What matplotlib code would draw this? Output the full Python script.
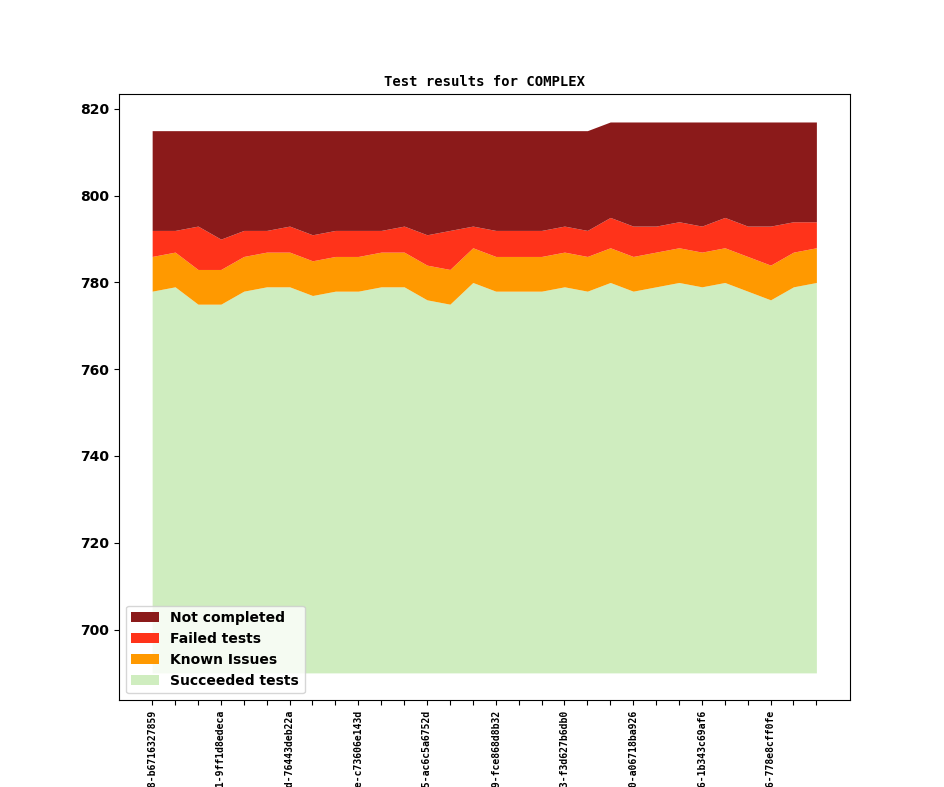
import matplotlib
matplotlib.use('Agg')
import matplotlib.pyplot as plt
import numpy as np

base = 690
succeeded = [778, 779, 775, 775, 778, 779, 779, 777, 778, 778, 779, 779, 776, 775, 780,
             778, 778, 778, 779, 778, 780, 778, 779, 780, 779, 780, 778, 776, 779, 780]
known_top = [786, 787, 783, 783, 786, 787, 787, 785, 786, 786, 787, 787, 784, 783, 788,
             786, 786, 786, 787, 786, 788, 786, 787, 788, 787, 788, 786, 784, 787, 788]
failed_top = [792, 792, 793, 790, 792, 792, 793, 791, 792, 792, 792, 793, 791, 792, 793,
              792, 792, 792, 793, 792, 795, 793, 793, 794, 793, 795, 793, 793, 794, 794]
total = [815] * 20 + [817] * 10

known = np.array(known_top) - np.array(succeeded)
failed = np.array(failed_top) - np.array(known_top)
not_completed = np.array(total) - np.array(failed_top)

commits = ['3f2a91c4-7d1e-4b08-b6716327859', '8c4e12aa-5b7f-4e21-9ff1d8edeca',
           'd19be0f3-2c6a-4f7d-76443deb22a', '5a0c7e9b-81d4-4a3e-c73606e143d',
           'e7b2d6f1-90c3-4c85-ac6c5a6752d', '1f8d3a62-4e7b-4d19-fce868d8b32',
           '9b6c04e5-a2f8-4b73-f3d627b6db0', '6d2e8f17-3c9a-4e50-a06718ba926',
           'c4a91b38-7e2d-4f66-1b343c69af6', '2e7f5c90-b1a4-4d36-778e8cff0fe']

x = np.arange(len(succeeded))
s = np.array(succeeded)
k = s + known
f = k + failed
t = f + not_completed

fig, ax = plt.subplots(figsize=(9.44, 7.87), dpi=100)
fig.subplots_adjust(left=0.126, right=0.9, top=0.88, bottom=0.11)
ax.fill_between(x, base, s, color='#cfedbf', lw=0, label='Succeeded tests')
ax.fill_between(x, s, k, color='#ff9900', lw=0, label='Known Issues')
ax.fill_between(x, k, f, color='#ff331a', lw=0, label='Failed tests')
ax.fill_between(x, f, t, color='#8b1a1a', lw=0, label='Not completed')

ax.set_xticks(x)
labels = [commits[i // 3] if i % 3 == 0 else '' for i in x]
ax.set_xticklabels(labels, rotation=90, fontsize=7, family='monospace', fontweight='bold')
for lab in ax.get_yticklabels():
    lab.set_fontweight('bold')
ax.set_title('Test results for COMPLEX', fontsize=10, family='monospace', fontweight='bold')

h, l = ax.get_legend_handles_labels()
ax.legend(h[::-1], l[::-1], loc='lower left', prop={'weight': 'bold', 'size': 10})

fig.savefig('out.png')
